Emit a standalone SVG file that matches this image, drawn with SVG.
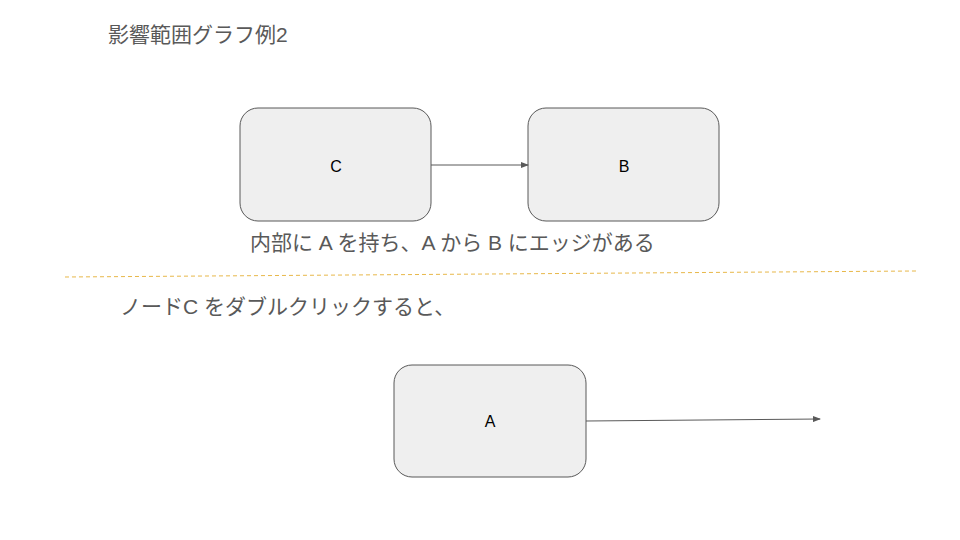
<svg xmlns="http://www.w3.org/2000/svg" width="960" height="540" viewBox="0 0 960 540">
<style>
.n{fill:#efefef;stroke:#595959;stroke-width:1}
.l{font-family:"Liberation Sans","Noto Sans CJK JP",sans-serif;font-size:16px;fill:#000;text-anchor:middle}
.t{font-family:"Liberation Sans","Noto Sans CJK JP",sans-serif;font-size:21px;fill:#595959}
.c{stroke:#595959;stroke-width:1;fill:none}
</style>
<defs><marker id="ah" markerWidth="8" markerHeight="6" refX="7" refY="3" orient="auto" markerUnits="userSpaceOnUse"><path d="M0,0L8,3L0,6z" fill="#595959"/></marker></defs>
<rect width="960" height="540" fill="#fff"/>
<text class="t" x="108" y="42">影響範囲グラフ例2</text>
<g id="nodeC"><rect class="n" x="240" y="108" width="191" height="113" rx="18"/><text class="l" x="336" y="172">C</text></g>
<g id="nodeB"><rect class="n" x="528" y="108" width="191" height="113" rx="18"/><text class="l" x="624" y="172">B</text></g>
<g id="nodeA"><rect class="n" x="394" y="365" width="192" height="112" rx="18"/><text class="l" x="490" y="427">A</text></g>
<g id="connectors">
<line class="c" x1="431" y1="165" x2="528" y2="165" marker-end="url(#ah)"/>
<line class="c" x1="586" y1="421" x2="820" y2="419" marker-end="url(#ah)"/>
</g>
<text class="t" x="250" y="250">内部に A を持ち、A から B にエッジがある</text>
<line x1="65" y1="277" x2="916" y2="271" stroke="#e8b84a" stroke-width="1" stroke-dasharray="4,3"/>
<text class="t" x="120" y="314">ノードC をダブルクリックすると、</text>
</svg>
